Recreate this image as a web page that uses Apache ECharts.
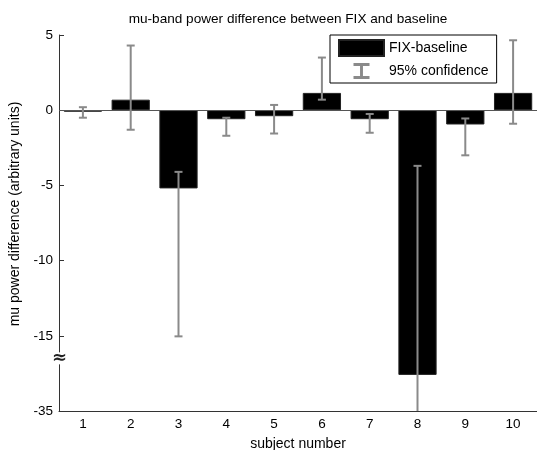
<!DOCTYPE html>
<html>
<head>
<meta charset="utf-8">
<script src="https://cdn.jsdelivr.net/npm/echarts@6/dist/echarts.min.js"></script>
<style>
  html, body { margin: 0; padding: 0; background: #fff; }
  #chart { width: 537px; height: 450px; }
</style>
</head>
<body>
<div id="chart"></div>
<script>
const subjects = ['1', '2', '3', '4', '5', '6', '7', '8', '9', '10']
const powerDiff = [-0.1, 0.7, -5.2, -0.6, -0.4, 1.15, -0.6, -25.4, -0.95, 1.15]
const ciLow = [-0.5, -1.3, -15.15, -1.7, -1.55, 0.7, -1.5, -40, -3.0, -0.9]
const ciHigh = [0.2, 4.3, -4.1, -0.5, 0.35, 3.5, -0.25, -3.7, -0.55, 4.65]

// broken y axis: -15..-35 is squeezed into 5 units
const BREAK = -15
const SQUEEZE = 4
const Y_MIN = -20 // axis units, shown as -35
const toAxis = v => (v >= BREAK ? v : BREAK + (v - BREAK) / SQUEEZE)
const fromAxis = v => (v >= BREAK ? v : BREAK + (v - BREAK) * SQUEEZE)

const FONT = 'Liberation Sans, Arial, sans-serif'
const AXIS_COLOR = '#333'
const ERR_COLOR = '#8a8a8a'

const myChart = echarts.init(document.getElementById('chart'))

/* error bars */
function renderErr(params, api) {
  const i = api.value(0)
  const lo = api.value(1)
  const hi = api.value(2)
  const pHi = api.coord([i, hi])
  const pLo = api.coord([i, Math.max(lo, Y_MIN)])
  const x = pHi[0]
  const cap = 4
  const style = { stroke: ERR_COLOR, lineWidth: 2 }
  const children = [
    { type: 'line', shape: { x1: x, y1: pHi[1], x2: x, y2: pLo[1] }, style },
    { type: 'line', shape: { x1: x - cap, y1: pHi[1], x2: x + cap, y2: pHi[1] }, style }
  ]
  if (lo >= Y_MIN) {
    children.push({ type: 'line', shape: { x1: x - cap, y1: pLo[1], x2: x + cap, y2: pLo[1] }, style })
  }
  return { type: 'group', children }
}

myChart.setOption({
  animation: false,
  textStyle: { fontFamily: FONT },
  title: {
    text: 'mu-band power difference between FIX and baseline',
    left: 288,
    textAlign: 'center',
    top: 12,
    padding: 0,
    textStyle: { fontSize: 13.6, fontWeight: 'normal', color: '#000', fontFamily: FONT }
  },
  legend: {
    orient: 'vertical',
    left: 330,
    top: 35,
    padding: [4, 8, 4, 8],
    itemGap: 6,
    itemWidth: 45,
    itemHeight: 16,
    borderColor: '#000',
    borderWidth: 1,
    backgroundColor: '#fff',
    selectedMode: false,
    textStyle: { fontSize: 14, color: '#000', fontFamily: FONT },
    data: [
      { name: 'FIX-baseline', icon: 'rect' },
      { name: '95% confidence', icon: 'path://M0,0H11V2H6.5V9H11V11H0V9H4.5V2H0Z' }
    ]
  },
  grid: { left: 59, right: 0, top: 35, bottom: 39, outerBoundsMode: 'none', containLabel: false },
  xAxis: {
    type: 'category',
    data: subjects,
    name: 'subject number',
    nameLocation: 'middle',
    nameGap: 26,
    nameTextStyle: { fontSize: 14, color: '#000' },
    axisLine: { onZero: false, lineStyle: { color: AXIS_COLOR } },
    axisTick: { inside: true, alignWithLabel: true, length: 5, lineStyle: { color: AXIS_COLOR } },
    axisLabel: { fontSize: 13.5, color: '#000', margin: 6 },
    splitLine: { show: false }
  },
  yAxis: {
    type: 'value',
    min: Y_MIN,
    max: 5,
    interval: 5,
    name: 'mu power difference (arbitrary units)',
    nameLocation: 'middle',
    nameGap: 31,
    nameTextStyle: { fontSize: 14, color: '#000', padding: [0, 0, 0, 18] },
    axisLine: { show: true, lineStyle: { color: AXIS_COLOR } },
    axisTick: { show: true, inside: true, length: 5, lineStyle: { color: AXIS_COLOR } },
    axisLabel: { fontSize: 13.5, color: '#000', margin: 6, formatter: v => String(fromAxis(v)) },
    splitLine: { show: false }
  },
  series: [
    {
      name: 'FIX-baseline',
      type: 'bar',
      barWidth: '80%',
      data: powerDiff.map(toAxis),
      itemStyle: { color: '#000', borderColor: '#222', borderWidth: 1 },
      markLine: {
        silent: true,
        symbol: 'none',
        label: { show: false },
        lineStyle: { color: '#555', width: 1, type: 'solid' },
        data: [{ yAxis: 0 }]
      }
    },
    {
      name: '95% confidence',
      type: 'custom',
      renderItem: renderErr,
      itemStyle: { color: ERR_COLOR },
      encode: { x: 0, y: [1, 2] },
      data: subjects.map((s, i) => [i, toAxis(ciLow[i]), toAxis(ciHigh[i])]),
      z: 5
    }
  ]
})

// axis break mark
const gapY = myChart.convertToPixel({ yAxisIndex: 0 }, -16.5)
myChart.setOption({
  graphic: [
    { type: 'rect', shape: { x: 54, y: gapY - 6, width: 12, height: 12 }, style: { fill: '#fff' }, z: 10 },
    {
      type: 'text', x: 59.5, y: gapY, z: 11,
      style: { text: '≈', font: 'bold 18px DejaVu Sans', fill: '#222', align: 'center', verticalAlign: 'middle' }
    }
  ]
})
</script>
</body>
</html>
